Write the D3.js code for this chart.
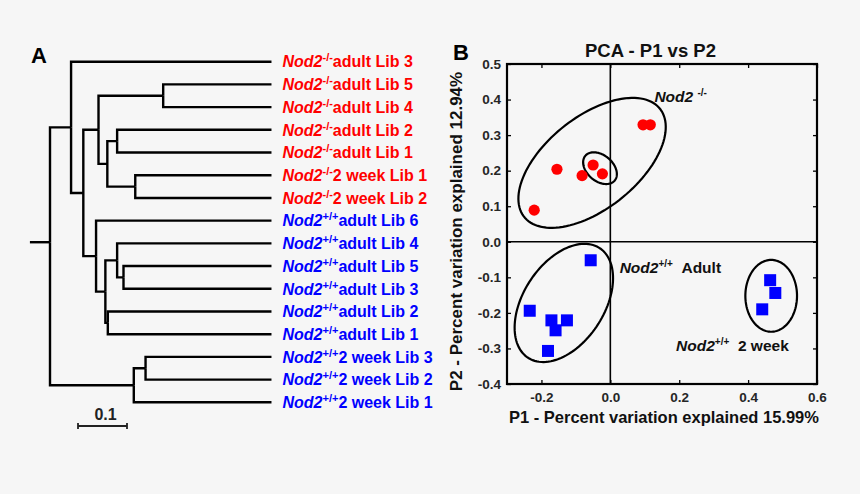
<!DOCTYPE html>
<html>
<head>
<meta charset="utf-8">
<script src="https://cdn.jsdelivr.net/npm/d3@7"></script>
<style>
  body { margin: 0; background: #f6f6f6; }
  svg { display: block; font-family: "Liberation Sans", Arial, sans-serif; font-weight: bold; }
</style>
</head>
<body>
<svg id="chart" width="860" height="494"></svg>
<script>
// ---- panel A: dendrogram ----
const leafGenotype = ["-/-", "-/-", "-/-", "-/-", "-/-", "-/-", "-/-",
                      "+/+", "+/+", "+/+", "+/+", "+/+", "+/+", "+/+", "+/+", "+/+"];
const leafSample = ["adult Lib 3", "adult Lib 5", "adult Lib 4", "adult Lib 2", "adult Lib 1",
                    "2 week Lib 1", "2 week Lib 2", "adult Lib 6", "adult Lib 4", "adult Lib 5",
                    "adult Lib 3", "adult Lib 2", "adult Lib 1", "2 week Lib 3", "2 week Lib 2", "2 week Lib 1"];
// clusters as [distance from root, [child, child]]; a bare number is a leaf index
const tree = [0, [
  [0.043, [0,
    [0.068, [
      [0.099, [[0.231, [1, 2]], [0.117, [[0.137, [3, 4]], [0.174, [5, 6]]]]]],
      [0.094, [7, [0.113, [[0.137, [8, [0.150, [9, 10]]]], [0.118, [11, 12]]]]]]
    ]]
  ]],
  [0.171, [[0.195, [13, 14]], 15]]
]];
const leafDist = 0.452;
const rootStem = 0.041;     // stem to the left of the root
const rootStemLeaf = 7.95;  // stem is level with this leaf position
const scaleBarLen = 0.1;

// ---- panel B: PCA ----
const koP1 = [0.095, 0.116, -0.155, -0.082, -0.050, -0.023, -0.221];
const koP2 = [0.329, 0.329, 0.204, 0.186, 0.216, 0.191, 0.089];
const wtAdultP1 = [-0.057, -0.234, -0.171, -0.126, -0.159, -0.181];
const wtAdultP2 = [-0.052, -0.194, -0.221, -0.221, -0.249, -0.307];
const wt2wkP1 = [0.464, 0.479, 0.441];
const wt2wkP2 = [-0.108, -0.144, -0.190];
const xTicks = [-0.2, 0.0, 0.2, 0.4, 0.6];
const yTicks = [-0.4, -0.3, -0.2, -0.1, 0.0, 0.1, 0.2, 0.3, 0.4, 0.5];
// group ellipses: centre P1, centre P2, semi-axes, rotation (deg)
const ellipseCx = [-0.053, -0.030, -0.135, 0.467];
const ellipseCy = [0.222, 0.207, -0.172, -0.152];
const ellipseA = [0.249, 0.055, 0.186, 0.075];
const ellipseB = [0.131, 0.037, 0.116, 0.101];
const ellipseRot = [37, -38, 55, 0];
const groupNames = ["-/-", "+/+", "+/+"];
const groupStage = ["", "Adult", "2 week"];
const groupLabelP1 = [0.128, 0.027, 0.191];
const groupLabelP2 = [0.394, -0.087, -0.307];

const red = "#ff0000", blue = "#0000ff";
const svg = d3.select("#chart");

//1. Dendrogram
const xTree = d3.scaleLinear().domain([0, 0.1]).range([50, 99]);
const yLeaf = d3.scaleLinear().domain([0, 15]).range([61.7, 402.3]);

const root = d3.hierarchy(tree, d => Array.isArray(d) ? d[1] : null);
root.eachAfter(n => {
  if (n.children) {
    n.dist = n.data[0];
    n.py = d3.mean(n.children, c => c.py);
  } else {
    n.dist = leafDist;
    n.py = yLeaf(n.data);
  }
});
root.py = yLeaf(rootStemLeaf);

const gTree = svg.append("g")
  .attr("fill", "none")
  .attr("stroke", "#000")
  .attr("stroke-width", 2.4);

gTree.selectAll("path.link")
  .data(root.links())
  .enter()
  .append("path")
  .attr("class", "link")
  .attr("d", l => "M" + xTree(l.source.dist) + "," + l.source.py +
                  "V" + l.target.py + "H" + xTree(l.target.dist));

gTree.append("path")
  .attr("d", "M" + xTree(-rootStem) + "," + root.py + "H" + xTree(0));

// leaf labels
const labels = svg.append("g")
  .selectAll("text")
  .data(root.leaves())
  .enter()
  .append("text")
  .attr("x", xTree(leafDist) + 11)
  .attr("y", d => d.py)
  .attr("dy", "0.36em")
  .attr("font-size", 16)
  .attr("fill", d => leafGenotype[d.data] === "-/-" ? red : blue);
labels.append("tspan").attr("font-style", "italic").text("Nod2");
labels.append("tspan").attr("font-size", 11).attr("dy", -6).text(d => leafGenotype[d.data]);
labels.append("tspan").attr("dy", 6).text(d => leafSample[d.data]);

// scale bar
const barX = 78, barY = 426;
const barW = xTree(scaleBarLen) - xTree(0);
svg.append("path")
  .attr("fill", "none").attr("stroke", "#222").attr("stroke-width", 1.8)
  .attr("d", "M" + barX + "," + (barY - 3) + "V" + (barY + 3) + "M" + barX + "," + barY +
             "H" + (barX + barW) + "M" + (barX + barW) + "," + (barY - 3) + "V" + (barY + 3));
svg.append("text")
  .attr("x", barX + barW / 2 + 3).attr("y", 420)
  .attr("text-anchor", "middle").attr("font-size", 16).attr("fill", "#222")
  .text(scaleBarLen);

svg.append("text").attr("x", 31).attr("y", 63).attr("font-size", 22).text("A");

//2. PCA scatter
const x = d3.scaleLinear().domain([-0.3, 0.6]).range([507, 817]);
const y = d3.scaleLinear().domain([-0.4, 0.5]).range([384, 64]);
const fmt = d => d.toFixed(1);

const gAxes = svg.append("g");
gAxes.append("g").attr("transform", "translate(" + x(-0.3) + ",0)")
  .call(d3.axisLeft(y).tickValues(yTicks).tickFormat(fmt).tickSize(-4).tickPadding(6));
gAxes.append("g").attr("transform", "translate(" + x(0.6) + ",0)")
  .call(d3.axisRight(y).tickValues(yTicks).tickFormat("").tickSize(-4));
gAxes.append("g").attr("transform", "translate(0," + y(-0.4) + ")")
  .call(d3.axisBottom(x).tickValues(xTicks).tickFormat(fmt).tickSize(-4).tickPadding(8));
gAxes.append("g").attr("transform", "translate(0," + y(0.5) + ")")
  .call(d3.axisTop(x).tickValues(xTicks).tickFormat("").tickSize(-4));
gAxes.selectAll(".domain").remove();
gAxes.selectAll(".tick line").attr("stroke", "#000").attr("stroke-width", 1.3);
gAxes.selectAll(".tick text")
  .attr("fill", "#262626")
  .style("font-family", "'Liberation Sans', Arial, sans-serif")
  .style("font-weight", "bold")
  .style("font-size", "13.5px");

// zero lines and frame
svg.append("line").attr("x1", x(-0.3)).attr("x2", x(0.6)).attr("y1", y(0)).attr("y2", y(0))
  .attr("stroke", "#000").attr("stroke-width", 1.6);
svg.append("line").attr("x1", x(0)).attr("x2", x(0)).attr("y1", y(0.5)).attr("y2", y(-0.4))
  .attr("stroke", "#000").attr("stroke-width", 1.6);
svg.append("rect")
  .attr("x", x(-0.3)).attr("y", y(0.5))
  .attr("width", x(0.6) - x(-0.3)).attr("height", y(-0.4) - y(0.5))
  .attr("fill", "none").attr("stroke", "#000").attr("stroke-width", 2.2);

// ellipses, traced in data space
const ellipseLine = d3.line().x(p => x(p[0])).y(p => y(p[1])).curve(d3.curveLinearClosed);
svg.append("g").selectAll("path")
  .data(d3.range(ellipseCx.length))
  .enter()
  .append("path")
  .attr("fill", "none").attr("stroke", "#000").attr("stroke-width", 2.2)
  .attr("d", i => {
    const r = ellipseRot[i] * Math.PI / 180;
    const pts = d3.range(0, 360, 3).map(t => {
      const u = ellipseA[i] * Math.cos(t * Math.PI / 180);
      const v = ellipseB[i] * Math.sin(t * Math.PI / 180);
      return [ellipseCx[i] + u * Math.cos(r) - v * Math.sin(r),
              ellipseCy[i] + u * Math.sin(r) + v * Math.cos(r)];
    });
    return ellipseLine(pts);
  });

// points
svg.append("g").selectAll("circle")
  .data(koP1)
  .enter()
  .append("circle")
  .attr("cx", d => x(d))
  .attr("cy", (d, i) => y(koP2[i]))
  .attr("r", 5.6)
  .attr("fill", red);

const sq = 12;
svg.append("g").selectAll("rect")
  .data(wtAdultP1.concat(wt2wkP1))
  .enter()
  .append("rect")
  .attr("x", d => x(d) - sq / 2)
  .attr("y", (d, i) => y(wtAdultP2.concat(wt2wkP2)[i]) - sq / 2)
  .attr("width", sq).attr("height", sq)
  .attr("fill", blue);

// group labels
const gl = svg.append("g").selectAll("text")
  .data(groupNames)
  .enter()
  .append("text")
  .attr("x", (d, i) => x(groupLabelP1[i]))
  .attr("y", (d, i) => y(groupLabelP2[i]))
  .attr("font-size", 15.5)
  .attr("fill", "#111");
gl.append("tspan").attr("font-style", "italic").text((d, i) => i === 0 ? "Nod2 " : "Nod2");
gl.append("tspan").attr("font-size", 10).attr("dy", -6).text(d => d);
gl.append("tspan").attr("dy", 6).text((d, i) => groupStage[i] ? "\u00a0\u00a0" + groupStage[i] : "");

// titles
svg.append("text").attr("x", 453).attr("y", 60).attr("font-size", 22).text("B");
svg.append("text").attr("x", 650.5).attr("y", 57).attr("text-anchor", "middle")
  .attr("font-size", 18.5).attr("fill", "#111").text("PCA - P1 vs P2");
svg.append("text").attr("x", 664).attr("y", 423).attr("text-anchor", "middle")
  .attr("font-size", 16.5).attr("fill", "#111").text("P1 - Percent variation explained 15.99%");
svg.append("text").attr("transform", "translate(462,231.5) rotate(-90)").attr("text-anchor", "middle")
  .attr("font-size", 17).attr("fill", "#111").text("P2 - Percent variation explained 12.94%");
</script>
</body>
</html>
